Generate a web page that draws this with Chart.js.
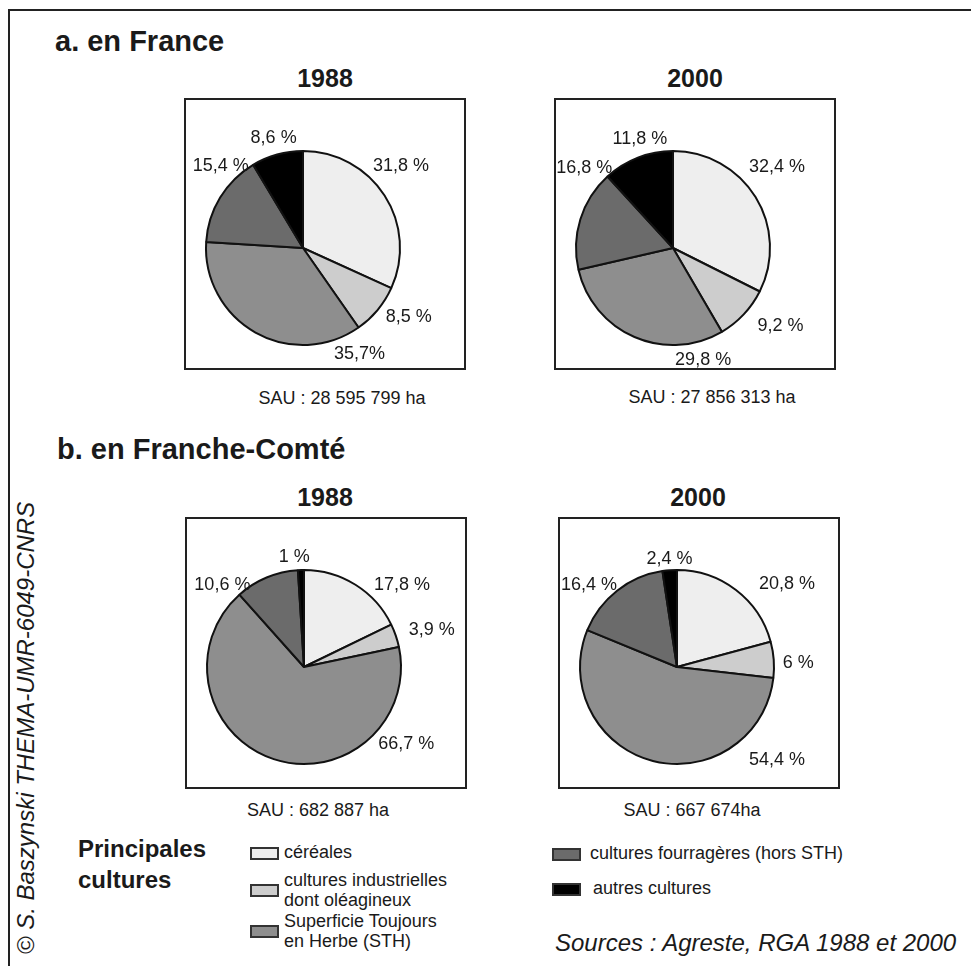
<!DOCTYPE html>
<html lang="fr">
<head>
<meta charset="utf-8">
<title>Principales cultures - France et Franche-Comté</title>
<script src="https://cdn.jsdelivr.net/npm/chart.js@4.4.1/dist/chart.umd.min.js"></script>
<style>
  html, body { margin: 0; padding: 0; background: #fff; }
  body {
    width: 971px; height: 966px; position: relative; overflow: hidden;
    font-family: "Liberation Sans", Arial, sans-serif; color: #1a1a1a;
  }
  .frame {
    position: absolute; left: 8px; top: 9px; width: 1000px; height: 1000px;
    border-top: 2px solid #222; border-left: 2px solid #222;
  }
  .txt { position: absolute; line-height: 1; white-space: nowrap; transform: translateY(-50%); }
  .heading { font-weight: bold; font-size: 29px; }
  .year { font-weight: bold; font-size: 25px; transform: translate(-50%, -50%); }
  .sau { font-size: 18px; transform: translate(-50%, -50%); }
  .box { position: absolute; width: 278px; height: 268px; border: 2px solid #222; }
  .box canvas { display: block; }
  .legend-title { font-weight: bold; font-size: 24px; }
  .swatch { position: absolute; width: 25px; height: 9px; border: 2px solid #333; }
  .legend-text { font-size: 18px; white-space: pre-line; line-height: 19.5px; }
  .sources { font-style: italic; font-size: 24px; }
  .credit {
    position: absolute; font-style: italic; font-size: 24px; line-height: 1; white-space: nowrap;
    transform: translate(-50%, -50%) rotate(-90deg);
  }
</style>
</head>
<body>
<div class="frame"></div>

<script>
// categories, in drawing order (clockwise from 12 o'clock)
const categories = [
  'céréales',
  'cultures industrielles\ndont oléagineux',
  'Superficie Toujours\nen Herbe (STH)',
  'cultures fourragères (hors STH)',
  'autres cultures'
];
const regions = ['a. en France', 'b. en Franche-Comté'];
const years = ['1988', '2000'];

// shares of the SAU, in %
const franceValues1988 = [31.8, 8.5, 35.7, 15.4, 8.6];
const franceValues2000 = [32.4, 9.2, 29.8, 16.8, 11.8];
const comteValues1988 = [17.8, 3.9, 66.7, 10.6, 1];
const comteValues2000 = [20.8, 6, 54.4, 16.4, 2.4];

// slice labels as printed
const franceLabels1988 = ['31,8 %', '8,5 %', '35,7%', '15,4 %', '8,6 %'];
const franceLabels2000 = ['32,4 %', '9,2 %', '29,8 %', '16,8 %', '11,8 %'];
const comteLabels1988 = ['17,8 %', '3,9 %', '66,7 %', '10,6 %', '1 %'];
const comteLabels2000 = ['20,8 %', '6 %', '54,4 %', '16,4 %', '2,4 %'];

const sauTexts = ['SAU : 28 595 799 ha', 'SAU : 27 856 313 ha', 'SAU : 682 887 ha', 'SAU : 667 674ha'];
const sourceText = 'Sources : Agreste, RGA 1988 et 2000';
const creditText = '\u00A9 S. Baszynski THEMA-UMR-6049-CNRS';

const sliceColors = ['#eeeeee', '#cdcdcd', '#8e8e8e', '#6b6b6b', '#000000'];

// page layout (px)
const panels = [
  { values: franceValues1988, texts: franceLabels1988, year: 0, sau: 0, box: [184, 98], title: [325, 78], sauAt: [342, 398],
    place: [[50, 1.32], [123, 1.30], [152, 1.24], [315, 1.20], [345, 1.17]] },
  { values: franceValues2000, texts: franceLabels2000, year: 1, sau: 1, box: [554, 98], title: [695, 78], sauAt: [712, 397],
    place: [[52, 1.36], [126, 1.37], [165, 1.20], [312, 1.23], [343, 1.17]] },
  { values: comteValues1988, texts: comteLabels1988, year: 0, sau: 2, box: [185, 517], title: [325, 497], sauAt: [318, 810],
    place: [[50, 1.32], [74, 1.37], [127, 1.32], [315, 1.19], [355, 1.14]] },
  { values: comteValues2000, texts: comteLabels2000, year: 1, sau: 3, box: [558, 517], title: [698, 497], sauAt: [692, 810],
    place: [[53, 1.42], [88, 1.25], [133, 1.41], [313, 1.24], [356, 1.12]] }
];
const headingAt = [[55, 41], [57, 449]];
const legendSlots = [
  { sx: 250, tx: 284, cy: 853 },
  { sx: 250, tx: 284, cy: 890 },
  { sx: 250, tx: 284, cy: 931 },
  { sx: 552, tx: 590, cy: 854 },
  { sx: 552, tx: 593, cy: 889 }
];

function addText(cls, text, x, y) {
  const el = document.createElement('div');
  el.className = 'txt ' + cls;
  el.textContent = text;
  el.style.left = x + 'px';
  el.style.top = y + 'px';
  document.body.appendChild(el);
  return el;
}

// draws the percentage next to each slice
const sliceLabelPlugin = {
  id: 'sliceLabels',
  afterDatasetsDraw(chart, args, opts) {
    const ctx = chart.ctx;
    const arcs = chart.getDatasetMeta(0).data;
    ctx.save();
    ctx.font = '18px "Liberation Sans", Arial, sans-serif';
    ctx.fillStyle = '#1a1a1a';
    ctx.textAlign = 'center';
    ctx.textBaseline = 'middle';
    arcs.forEach((arc, i) => {
      const [deg, dist] = opts.place[i];
      const a = deg * Math.PI / 180;
      const r = arc.outerRadius * dist;
      ctx.fillText(opts.texts[i], arc.x + Math.sin(a) * r, arc.y - Math.cos(a) * r);
    });
    ctx.restore();
  }
};

document.addEventListener('DOMContentLoaded', function () {
  regions.forEach((name, i) => addText('heading', name, headingAt[i][0], headingAt[i][1]));

  panels.forEach(p => {
    addText('year', years[p.year], p.title[0], p.title[1]);
    addText('sau', sauTexts[p.sau], p.sauAt[0], p.sauAt[1]);

    const box = document.createElement('div');
    box.className = 'box';
    box.style.left = p.box[0] + 'px';
    box.style.top = p.box[1] + 'px';
    const canvas = document.createElement('canvas');
    canvas.width = 278;
    canvas.height = 268;
    box.appendChild(canvas);
    document.body.appendChild(box);

    new Chart(canvas, {
      type: 'pie',
      data: {
        labels: categories,
        datasets: [{
          data: p.values,
          backgroundColor: sliceColors,
          borderColor: '#111',
          borderWidth: 2
        }]
      },
      options: {
        responsive: false,
        animation: false,
        layout: { padding: { left: 19, top: 50, right: 63, bottom: 22 } },
        plugins: {
          legend: { display: false },
          tooltip: { enabled: false },
          sliceLabels: { texts: p.texts, place: p.place }
        }
      },
      plugins: [sliceLabelPlugin]
    });
  });

  // legend
  addText('legend-title', 'Principales', 78, 849);
  addText('legend-title', 'cultures', 78, 880);
  categories.forEach((name, i) => {
    const slot = legendSlots[i];
    const sw = document.createElement('div');
    sw.className = 'swatch';
    sw.style.left = slot.sx + 'px';
    sw.style.top = (slot.cy - 6) + 'px';
    sw.style.background = sliceColors[i];
    document.body.appendChild(sw);
    addText('legend-text', name, slot.tx, slot.cy);
  });

  addText('sources', sourceText, 555, 943);

  const credit = document.createElement('div');
  credit.className = 'credit';
  credit.textContent = creditText;
  credit.style.left = '26px';
  credit.style.top = '728px';
  document.body.appendChild(credit);
});
</script>
</body>
</html>
